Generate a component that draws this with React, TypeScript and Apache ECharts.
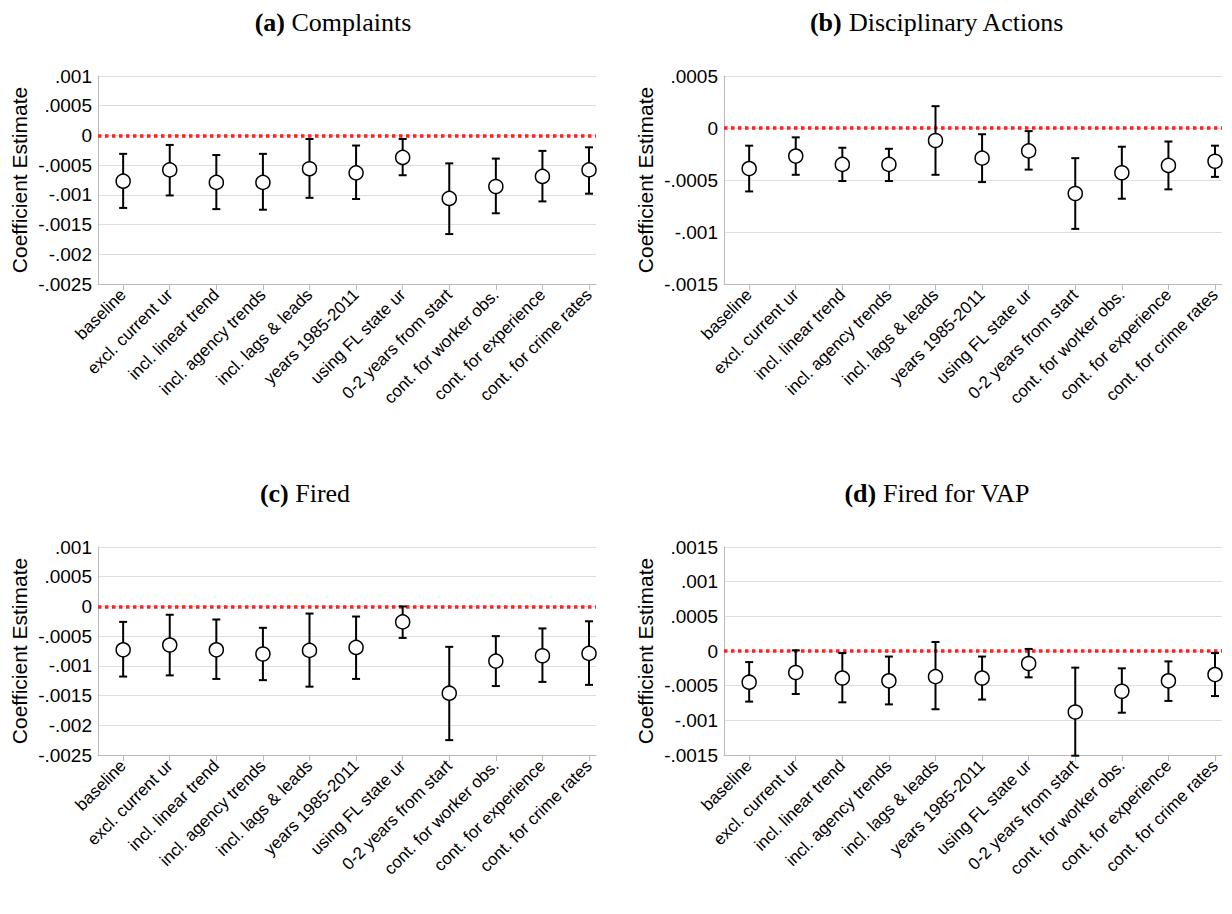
import { useEffect, useRef } from 'react'
import * as echarts from 'echarts'

const categories = [
  'baseline', 'excl. current ur', 'incl. linear trend', 'incl. agency trends',
  'incl. lags & leads', 'years 1985-2011', 'using FL state ur', '0-2 years from start',
  'cont. for worker obs.', 'cont. for experience', 'cont. for crime rates'
]

// point estimates and 95% CI bounds per panel
const complaintsMid = [-0.00077, -0.00058, -0.00079, -0.00079, -0.00056, -0.00063, -0.00037, -0.00106, -0.00086, -0.00069, -0.00058]
const complaintsLo = [-0.00122, -0.00101, -0.00124, -0.00125, -0.00105, -0.00107, -0.00067, -0.00166, -0.00131, -0.00111, -0.00098]
const complaintsHi = [-0.00031, -0.00016, -0.00033, -0.00031, -0.00006, -0.00017, -0.00006, -0.00047, -0.00039, -0.00026, -0.0002]

const disciplineMid = [-0.00039, -0.00027, -0.00035, -0.00035, -0.00012, -0.00029, -0.00022, -0.00063, -0.00043, -0.00036, -0.00032]
const disciplineLo = [-0.00061, -0.00045, -0.00051, -0.00051, -0.00045, -0.00052, -0.0004, -0.00097, -0.00068, -0.00059, -0.00047]
const disciplineHi = [-0.00017, -0.00009, -0.00019, -0.0002, 0.00021, -0.00006, -0.00003, -0.00029, -0.00018, -0.00013, -0.00017]

const firedMid = [-0.00073, -0.00065, -0.00073, -0.0008, -0.00074, -0.00069, -0.00026, -0.00146, -0.00092, -0.00083, -0.00079]
const firedLo = [-0.00118, -0.00116, -0.00122, -0.00124, -0.00135, -0.00122, -0.00053, -0.00225, -0.00134, -0.00127, -0.00132]
const firedHi = [-0.00026, -0.00014, -0.00022, -0.00036, -0.00012, -0.00017, 0.0, -0.00068, -0.0005, -0.00037, -0.00025]

const vapMid = [-0.00045, -0.00031, -0.00039, -0.00043, -0.00037, -0.00039, -0.00018, -0.00088, -0.00058, -0.00043, -0.00034]
const vapLo = [-0.00073, -0.00062, -0.00074, -0.00077, -0.00084, -0.0007, -0.00038, -0.00151, -0.00089, -0.00072, -0.00065]
const vapHi = [-0.00016, 0.00001, -0.00003, -0.00008, 0.00013, -0.00008, 0.00003, -0.00024, -0.00025, -0.00015, -0.00003]

const panels = [
  { tag: '(a)', title: 'Complaints', mid: complaintsMid, lo: complaintsLo, hi: complaintsHi, min: -0.0025, max: 0.001, left: 98, top: 76, cx: 328, ty: 4 },
  { tag: '(b)', title: 'Disciplinary Actions', mid: disciplineMid, lo: disciplineLo, hi: disciplineHi, min: -0.0015, max: 0.0005, left: 724, top: 76, cx: 932, ty: 4 },
  { tag: '(c)', title: 'Fired', mid: firedMid, lo: firedLo, hi: firedHi, min: -0.0025, max: 0.001, left: 98, top: 547, cx: 300, ty: 475 },
  { tag: '(d)', title: 'Fired for VAP', mid: vapMid, lo: vapLo, hi: vapHi, min: -0.0015, max: 0.0015, left: 724, top: 547, cx: 932, ty: 475 }
]

const sans = 'Liberation Sans'
const serif = 'Liberation Serif'

const fmtY = (v: number) => {
  if (Math.abs(v) < 1e-12) return '0'
  const s = parseFloat(Math.abs(v).toFixed(6)).toString().replace(/^0/, '')
  return (v < 0 ? '-' : '') + s
}

const App = () => {
  const chartRef = useRef<HTMLDivElement>(null)

  useEffect(() => {
    if (!chartRef.current) return
    document.body.style.margin = '0'
    const chart = echarts.init(chartRef.current, null, { renderer: 'svg' })
    const idx = categories.map((_, i) => i)

    chart.setOption({
      animation: false,
      backgroundColor: '#fff',
      title: panels.map((p) => ({
        text: `{b|${p.tag}} ${p.title}`,
        left: p.cx,
        top: p.ty,
        textAlign: 'center',
        textStyle: {
          fontFamily: serif, fontSize: 26, fontWeight: 'normal', color: '#000',
          rich: { b: { fontFamily: serif, fontSize: 26, fontWeight: 'bold', color: '#000' } }
        }
      })),
      grid: panels.map((p) => ({ left: p.left, top: p.top, width: 498, height: 208 })),
      xAxis: panels.map((_, g) => ({
        type: 'value',
        gridIndex: g,
        min: -0.54,
        max: 10.15,
        splitLine: { show: false },
        axisLine: { show: true, onZero: false, lineStyle: { color: '#bbb' } },
        axisTick: { show: true, length: 6, lineStyle: { color: '#bbb' }, customValues: idx },
        axisLabel: {
          customValues: idx,
          rotate: 45,
          fontFamily: sans,
          fontSize: 17,
          color: '#000',
          margin: 8,
          formatter: (v: number) => categories[Math.round(v)] ?? ''
        }
      })),
      yAxis: panels.map((p, g) => ({
        type: 'value',
        gridIndex: g,
        min: p.min,
        max: p.max,
        interval: 0.0005,
        name: 'Coefficient Estimate',
        nameLocation: 'middle',
        nameGap: 68,
        nameTextStyle: { fontFamily: sans, fontSize: 21, color: '#000' },
        axisLine: { show: true, onZero: false, lineStyle: { color: '#bbb' } },
        axisTick: { show: false },
        splitLine: { lineStyle: { color: '#ddd' } },
        axisLabel: { fontFamily: sans, fontSize: 19, color: '#000', formatter: fmtY, margin: 6 }
      })),
      series: panels.flatMap((p, g) => [
        {
          type: 'custom',
          xAxisIndex: g,
          yAxisIndex: g,
          data: p.mid.map((_, i) => [i, p.lo[i], p.hi[i]]),
          renderItem: (params: any, api: any) => {
            const lo = api.coord([api.value(0), api.value(1)])
            const hi = api.coord([api.value(0), api.value(2)])
            const w = 4
            const style = { stroke: '#000', lineWidth: 2 }
            return {
              type: 'group',
              children: [
                { type: 'line', shape: { x1: lo[0], y1: lo[1], x2: hi[0], y2: hi[1] }, style },
                { type: 'line', shape: { x1: lo[0] - w, y1: lo[1], x2: lo[0] + w, y2: lo[1] }, style },
                { type: 'line', shape: { x1: hi[0] - w, y1: hi[1], x2: hi[0] + w, y2: hi[1] }, style }
              ]
            }
          },
          z: 3
        },
        {
          type: 'scatter',
          xAxisIndex: g,
          yAxisIndex: g,
          symbol: 'circle',
          symbolSize: 14,
          itemStyle: { color: '#fff', borderColor: '#000', borderWidth: 1.5, opacity: 1 },
          data: p.mid.map((v, i) => [i, v]),
          z: 4,
          markLine: {
            silent: true,
            symbol: 'none',
            label: { show: false },
            lineStyle: { color: '#ff2020', type: 'dotted', width: 3.5 },
            data: [{ yAxis: 0 }],
            z: 2
          }
        }
      ])
    })

    return () => chart.dispose()
  }, [])

  return <div ref={chartRef} style={{ width: 1232, height: 914 }} />
}

export default App
